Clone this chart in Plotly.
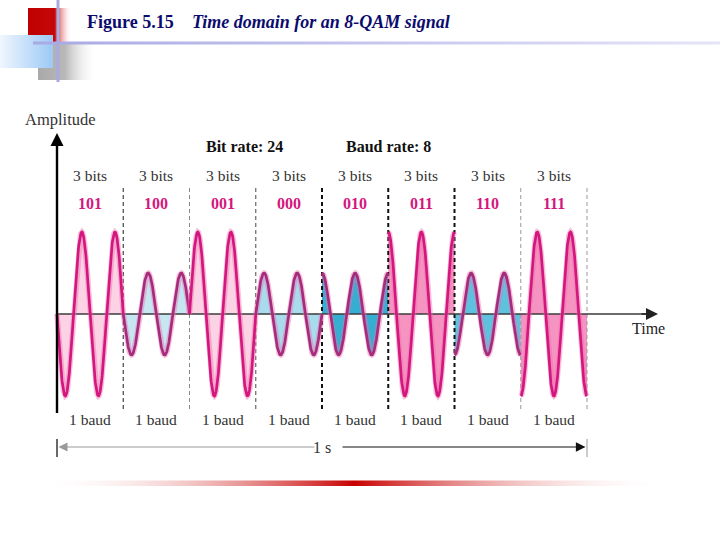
import numpy as np
import plotly.graph_objects as go

# ---------------- data ----------------
bits = ["101", "100", "001", "000", "010", "011", "110", "111"]
amplitudes = [1.0, 0.5, 1.0, 0.5, 0.5, 1.0, 0.5, 1.0]
phases_deg = [180, 180, 0, 0, 90, 90, 270, 270]
bit_rate = 24
baud_rate = 8
cycles_per_baud = 2
bits_per_baud = 3
fill_colors = ["#fcd3e5", "#c6e7f1", "#fcd3e5", "#a8dbeb",
               "#35aed1", "#f594c1", "#5ec1de", "#f594c1"]
line_colors = ["#d3177e", "#a52c7d", "#d3177e", "#a52c7d",
               "#a52c7d", "#d3177e", "#a52c7d", "#d3177e"]
boundary_styles = [("#444444", 1.2), ("#8a8a8a", 1.0), ("#666666", 1.2),
                   ("#111111", 2.0), ("#111111", 2.0), ("#111111", 2.0),
                   ("#999999", 1.0), ("#999999", 1.0)]

# -------- pixel <-> data mapping (layout only) --------
X0, PX_PER_S, Y0, PX_PER_AMP = 57.0, 530.0, 314.0, 82.0
def X(px):
    return (px - X0) / PX_PER_S
def Y(py):
    return (Y0 - py) / PX_PER_AMP

SERIF = "Liberation Serif, Times New Roman, DejaVu Serif, serif"
fig = go.Figure()

def grad_rect(x0, y0, x1, y1, colorscale, gtype="horizontal"):
    fig.add_trace(go.Scatter(
        x=[X(x0), X(x1), X(x1), X(x0), X(x0)],
        y=[Y(y0), Y(y0), Y(y1), Y(y1), Y(y0)],
        mode="none", fill="toself",
        fillgradient=dict(type=gtype, colorscale=colorscale),
        hoverinfo="skip", showlegend=False))

# ---------- header decoration ----------
grad_rect(38, 43, 98, 80, [[0, "#a9a9a9"], [0.45, "#b8b8b8"], [1, "rgba(255,255,255,0)"]])
grad_rect(28, 8, 72, 42, [[0, "#c00000"], [0.6, "#c40808"], [1, "rgba(255,255,255,0)"]])
grad_rect(0, 35, 53, 68, [[0, "#f0f6fe"], [1, "#9cc9f6"]])
grad_rect(33, 41.5, 720, 44.5, [[0, "#a9a9e4"], [1, "#e4e4f8"]])
grad_rect(56.5, 0, 59.5, 82, [[0, "#a9a9e4"], [1, "#a9a9e4"]])
# bottom red rule
grad_rect(40, 480.5, 668, 486, [[0, "rgba(255,255,255,0)"], [0.5, "#c80000"],
                                [1, "rgba(255,255,255,0)"]])

# ---------- waveform ----------
T = 1.0 / baud_rate
waves = []
for k in range(len(bits)):
    t = np.linspace(k * T, (k + 1) * T, 300)
    s = amplitudes[k] * np.sin(2 * np.pi * cycles_per_baud * (t - k * T) / T
                               + np.deg2rad(phases_deg[k]))
    waves.append((t, s))
    fig.add_trace(go.Scatter(x=t, y=s, mode="none", fill="tozeroy",
                             fillcolor=fill_colors[k], hoverinfo="skip",
                             showlegend=False))

# baud boundary dashed lines
for k in range(1, len(bits) + 1):
    col, w = boundary_styles[k - 1]
    fig.add_trace(go.Scatter(x=[k * T, k * T], y=[Y(188), Y(412)], mode="lines",
                             line=dict(color=col, width=w, dash="4px,3px"),
                             hoverinfo="skip", showlegend=False))

# time axis line
fig.add_trace(go.Scatter(x=[0, X(652)], y=[0, 0], mode="lines",
                         line=dict(color="#3a3a3a", width=1.5),
                         hoverinfo="skip", showlegend=False))

for k, (t, s) in enumerate(waves):
    fig.add_trace(go.Scatter(x=t, y=s, mode="lines",
                             line=dict(color="rgba(240,110,175,0.45)", width=5.5),
                             hoverinfo="skip", showlegend=False))
    fig.add_trace(go.Scatter(x=t, y=s, mode="lines",
                             line=dict(color=line_colors[k], width=2.7),
                             hoverinfo="skip", showlegend=False))

# amplitude axis
fig.add_trace(go.Scatter(x=[0, 0], y=[Y(413), Y(140)], mode="lines",
                         line=dict(color="#000000", width=2.4),
                         hoverinfo="skip", showlegend=False))

ann = []
def text(x, y, s, size=14, color="#222222", xanchor="center", bold=False, **kw):
    if bold:
        s = "<b>" + s + "</b>"
    ann.append(dict(x=x, y=y, text=s, showarrow=False, xanchor=xanchor,
                    yanchor="middle", font=dict(family=SERIF, size=size, color=color), **kw))

def arrow(xt, yt, xa, ya, color, width, size):
    ann.append(dict(x=xt, y=yt, ax=xa, ay=ya, xref="x", yref="y", axref="x", ayref="y",
                    text="", showarrow=True, arrowhead=2, arrowsize=size,
                    arrowwidth=width, arrowcolor=color, standoff=0))

# arrows
arrow(0, Y(133), 0, Y(150), "#000000", 2.0, 1.3)
arrow(X(658), 0, X(640), 0, "#222222", 1.5, 1.6)

# 1 s span
fig.add_trace(go.Scatter(x=[0, 0], y=[Y(439), Y(457)], mode="lines",
                         line=dict(color="#444444", width=1.6), hoverinfo="skip", showlegend=False))
fig.add_trace(go.Scatter(x=[1, 1], y=[Y(439), Y(457)], mode="lines",
                         line=dict(color="#999999", width=1.0), hoverinfo="skip", showlegend=False))
arrow(X(58.5), Y(447), X(316), Y(447), "#9a9a9a", 1.0, 1.8)
arrow(X(585.5), Y(447), X(341), Y(447), "#111111", 1.2, 1.6)
text(0.5, Y(447), "1 s", size=16, color="#333333")

# labels
text(X(23), Y(119), "Amplitude", size=16.5, color="#333333", xanchor="left")
text(X(204), Y(146), "Bit rate: %d" % bit_rate, size=16, color="#111111", xanchor="left", bold=True)
text(X(344), Y(146), "Baud rate: %d" % baud_rate, size=16, color="#111111", xanchor="left", bold=True)
text(X(648), Y(328), "Time", size=16, color="#222222")
for k, b in enumerate(bits):
    c = (k + 0.5) * T
    text(c, Y(175), "%d bits" % bits_per_baud, size=15.5, color="#333333")
    text(c, Y(203), b, size=16, color="#d4177f", bold=True)
    text(c, Y(419), "1 baud", size=15.5, color="#333333")

# title
text(X(85), Y(22), "Figure 5.15", size=18, color="#0b0b6e", xanchor="left", bold=True)
text(X(190), Y(22), "<i>Time domain for an 8-QAM signal</i>", size=18, color="#0b0b6e",
     xanchor="left", bold=True)

fig.update_layout(
    width=720, height=540, margin=dict(l=0, r=0, t=0, b=0),
    paper_bgcolor="white", plot_bgcolor="white", showlegend=False,
    xaxis=dict(range=[X(0), X(720)], visible=False, showgrid=False, zeroline=False),
    yaxis=dict(range=[Y(540), Y(0)], visible=False, showgrid=False, zeroline=False),
    annotations=ann,
)
fig.write_html("out.html")
